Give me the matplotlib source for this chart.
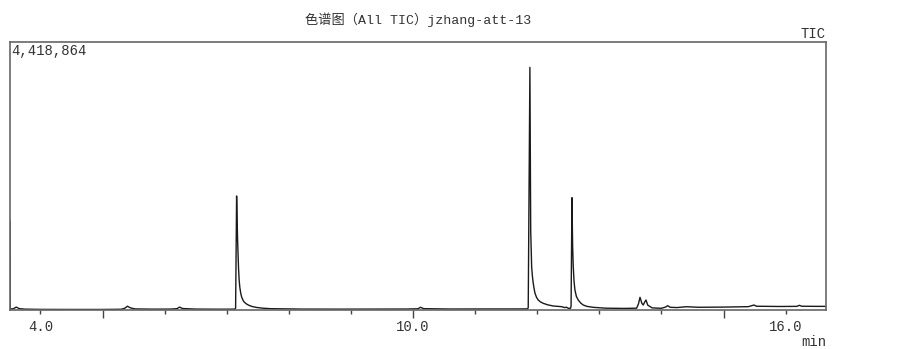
import matplotlib
matplotlib.use('Agg')
import matplotlib.pyplot as plt
from matplotlib.transforms import blended_transform_factory

plt.rcParams['font.family'] = ['Liberation Mono', 'Noto Sans CJK SC']

TITLE = '色谱图（All TIC）jzhang-att-13'
Y_MAX = 4418864
X_LIMITS = (3.51, 16.65)

label_pos = [4.0, 10.0, 16.0]
tick_labels = ['4.0', '10.0', '16.0']
minor_pos = list(range(4, 17))
major_pos = [5, 10, 15]

# retention time (min) and TIC counts
time_min = [
    3.510, 3.514, 3.56, 3.61, 3.66, 3.75, 4.0, 4.5, 5.0, 5.30, 5.36, 5.40,
    5.45, 5.52, 5.8, 6.1, 6.20, 6.24, 6.29, 6.5, 6.9, 7.13, 7.143, 7.159,
    7.175, 7.19, 7.20, 7.21, 7.225, 7.24, 7.26, 7.28, 7.32, 7.36, 7.40,
    7.48, 7.58, 7.70, 8.2, 8.8, 9.4, 9.9, 10.08,
    10.12, 10.17, 10.6, 11.2, 11.6, 11.845, 11.855, 11.882, 11.895, 11.91,
    11.922, 11.935, 11.95, 11.963, 11.99, 12.016, 12.05, 12.097, 12.17,
    12.258, 12.393, 12.44, 12.47, 12.50, 12.535,
    12.545, 12.559, 12.57, 12.580, 12.593, 12.607, 12.63, 12.660, 12.70,
    12.741, 12.80, 12.902, 13.1, 13.4,
    13.6, 13.63, 13.655, 13.685, 13.707, 13.73, 13.751, 13.78, 13.85, 14.0,
    14.07, 14.10, 14.14, 14.25, 14.40, 14.6, 15.0, 15.40, 15.45, 15.49,
    15.53, 15.9, 16.18, 16.22, 16.26, 16.5, 16.65,
]
tic = [
    1460000, 20000, 18000, 48000, 22000, 14000, 10000, 9000, 9000, 12000,
    30000, 62000, 35000, 18000, 14000, 15000, 22000, 48000, 24000, 15000,
    13000, 14000, 30000, 1880000,
    1150000, 690000, 495000, 380000, 280000, 215000, 165000, 132000,
    98000, 76000, 60000,
    42000, 30000, 22000, 15000, 14000, 15000, 16000, 20000,
    45000, 22000, 16000, 17000, 17000, 18000, 40000, 4000000, 1300000,
    715000, 560000, 445000, 350000, 280000, 205000, 165000, 135000,
    110000, 85000, 66000, 55000, 40000, 46000, 28000, 28000,
    60000, 1852000, 1050000, 715000, 470000, 330000, 225000, 165000,
    115000, 82000, 60000, 44000, 30000, 26000,
    30000, 100000,
    209000, 110000, 82000, 130000, 165000, 80000, 35000, 28000, 50000,
    71000, 45000, 40000, 54000, 45000, 48000, 55000, 70000, 82000, 62000,
    58000, 60000, 77000, 62000, 60000, 60000,
]

fig = plt.figure(figsize=(9.04, 3.49), dpi=100)
ax = fig.add_axes([10 / 904, 1 - 310 / 349, 816 / 904, 268 / 349])

ax.plot(time_min, tic, color='#1a1a1a', lw=1.0)
ax.set_xlim(*X_LIMITS)
ax.set_ylim(0, Y_MAX)

for s in ax.spines.values():
    s.set_color('#666666')
    s.set_linewidth(1.2)

ax.set_yticks([])
ax.set_xticks(major_pos)
ax.set_xticklabels([])
ax.set_xticks(minor_pos, minor=True)
ax.tick_params(axis='x', which='major', direction='out', length=6,
               width=1, color='#444444')
ax.tick_params(axis='x', which='minor', direction='out', length=3,
               width=1, color='#444444')

trans = blended_transform_factory(ax.transData, ax.transAxes)
for x, lab in zip(label_pos, tick_labels):
    ax.text(x, -0.065, lab, transform=trans, ha='center', va='center',
            fontsize=10, color='#333333')

ax.text(1.0, -0.12, 'min', transform=ax.transAxes, ha='right', va='center',
        fontsize=10, color='#333333')
ax.text(1.0, 1.005, 'TIC', transform=ax.transAxes, ha='right',
        va='bottom', fontsize=10, color='#333333')
ax.text(0.002, 0.993, '4,418,864', transform=ax.transAxes, ha='left',
        va='top', fontsize=10, color='#333333')

fig.text(418 / 904, 1 - 20 / 349, TITLE, ha='center', va='center',
         fontsize=9.5, color='#333333')

fig.savefig('out.png', dpi=100)
